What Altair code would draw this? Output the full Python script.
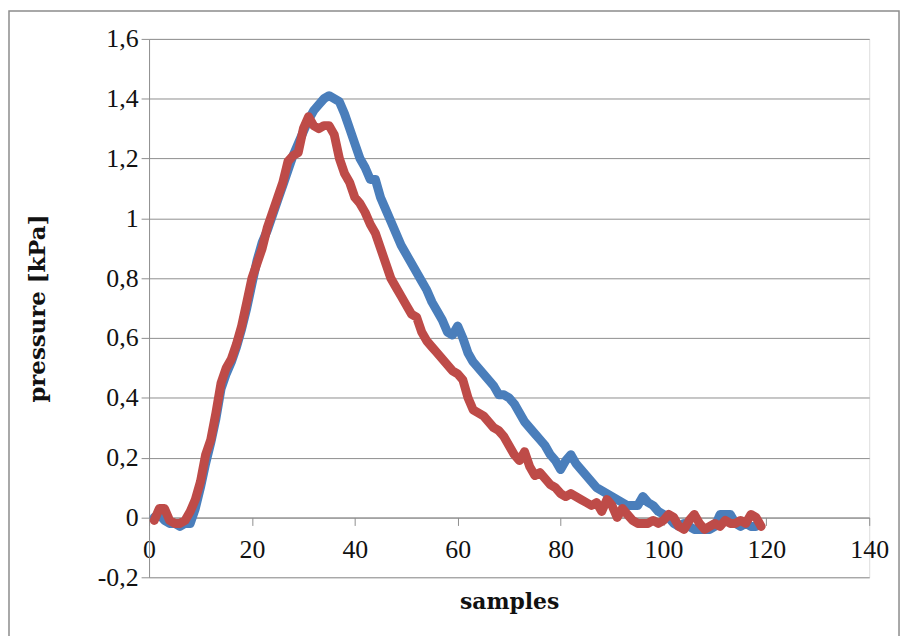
import altair as alt
import pandas as pd

# --- data ---
samples_red = list(range(1, 120))
pressure_red = [
    -0.01, 0.03, 0.03, -0.01, -0.02, -0.02, -0.01, 0.02, 0.06, 0.12,
    0.21, 0.26, 0.35, 0.45, 0.50, 0.53, 0.58, 0.64, 0.72, 0.80,
    0.85, 0.90, 0.97, 1.02, 1.07, 1.12, 1.19, 1.21, 1.22, 1.30,
    1.34, 1.31, 1.30, 1.31, 1.31, 1.28, 1.20, 1.15, 1.12, 1.07,
    1.05, 1.02, 0.98, 0.95, 0.90, 0.85, 0.80, 0.77, 0.74, 0.71,
    0.68, 0.67, 0.62, 0.59, 0.57, 0.55, 0.53, 0.51, 0.49, 0.48,
    0.46, 0.40, 0.36, 0.35, 0.34, 0.32, 0.30, 0.29, 0.27, 0.24,
    0.21, 0.19, 0.22, 0.17, 0.14, 0.15, 0.13, 0.11, 0.10, 0.08,
    0.07, 0.08, 0.07, 0.06, 0.05, 0.04, 0.05, 0.02, 0.06, 0.04,
    0.00, 0.03, 0.01, -0.01, -0.02, -0.02, -0.02, -0.01, -0.02, -0.01,
    0.01, 0.00, -0.03, -0.04, -0.01, 0.01, -0.02, -0.04, -0.03, -0.02,
    -0.03, -0.01, -0.02, -0.02, -0.01, -0.02, 0.01, 0.00, -0.03,
]

samples_blue = list(range(1, 119))
pressure_blue = [
    0.00, 0.01, -0.01, -0.02, -0.02, -0.03, -0.02, -0.02, 0.03, 0.10,
    0.18, 0.25, 0.33, 0.43, 0.48, 0.52, 0.57, 0.63, 0.70, 0.78,
    0.86, 0.92, 0.96, 1.01, 1.06, 1.11, 1.16, 1.21, 1.25, 1.29,
    1.33, 1.36, 1.38, 1.40, 1.41, 1.40, 1.39, 1.35, 1.30, 1.25,
    1.20, 1.17, 1.13, 1.13, 1.07, 1.03, 0.99, 0.95, 0.91, 0.88,
    0.85, 0.82, 0.79, 0.76, 0.72, 0.69, 0.66, 0.62, 0.61, 0.64,
    0.60, 0.55, 0.52, 0.50, 0.48, 0.46, 0.44, 0.41, 0.41, 0.40,
    0.38, 0.35, 0.32, 0.30, 0.28, 0.26, 0.24, 0.21, 0.19, 0.16,
    0.19, 0.21, 0.18, 0.16, 0.14, 0.12, 0.10, 0.09, 0.08, 0.07,
    0.06, 0.05, 0.04, 0.04, 0.04, 0.07, 0.05, 0.04, 0.02, 0.01,
    0.00, -0.02, -0.03, -0.02, -0.03, -0.04, -0.04, -0.04, -0.04, -0.03,
    0.01, 0.01, 0.01, -0.02, -0.03, -0.02, -0.03, -0.03,
]

x_ticks = [0, 20, 40, 60, 80, 100, 120, 140]
y_ticks = [-0.2, 0.0, 0.2, 0.4, 0.6, 0.8, 1.0, 1.2, 1.4, 1.6]

series_names = ["blue", "red"]
series_colors = ["#4a7ebb", "#be4b48"]

df = pd.concat([
    pd.DataFrame({"samples": samples_blue, "pressure": pressure_blue, "series": "blue", "order": 0}),
    pd.DataFrame({"samples": samples_red, "pressure": pressure_red, "series": "red", "order": 1}),
])

W, H = 725, 542
LFONT = "Liberation Serif"
TFONT = "DejaVu Serif"
GRID = "#8e8e8e"

label_expr = "replace(replace(format(datum.value, '~g'), '.', ','), '\u2212', '-')"

x_enc = alt.X(
    "samples:Q",
    scale=alt.Scale(domain=[0, 140], nice=False, zero=False),
    axis=alt.Axis(
        values=x_ticks, title="samples", grid=False,
        offset=-H / 9, domain=True, domainColor=GRID, tickColor=GRID,
        tickSize=8, labelPadding=11, labelFont=LFONT, labelFontSize=26,
        labelColor="#111111", titleFont=TFONT, titleFontSize=22,
        titleFontWeight="bold", titleColor="#111111", titlePadding=30,
        labelFlush=False,
    ),
)
y_enc = alt.Y(
    "pressure:Q",
    scale=alt.Scale(domain=[-0.2, 1.6], nice=False, zero=False),
    axis=alt.Axis(
        values=y_ticks, title="pressure [kPa]", grid=True, gridColor=GRID,
        gridOpacity=1, domainColor=GRID, tickColor=GRID, tickSize=8,
        labelPadding=3, labelExpr=label_expr, labelFont=LFONT, labelFontSize=26,
        labelColor="#111111", titleFont=TFONT, titleFontSize=23,
        titleFontWeight="bold", titleColor="#111111", titlePadding=48,
    ),
)

lines = alt.Chart(df).mark_line(strokeWidth=9, strokeCap="round", strokeJoin="round").encode(
    x=x_enc,
    y=y_enc,
    color=alt.Color("series:N", scale=alt.Scale(domain=series_names, range=series_colors), legend=None),
    detail="series:N",
    order="order:Q",
)

border = alt.Chart(alt.Data(values=[{}])).mark_rect(
    filled=False, stroke="#8c8c8c", strokeWidth=1.5
).encode(
    x=alt.value(-141), x2=alt.value(755), y=alt.value(-28), y2=alt.value(700)
)

chart = alt.layer(border, lines).properties(
    width=W, height=H,
    padding={"left": 142, "top": 29, "right": 32, "bottom": 57},
    autosize=alt.AutoSizeParams(type="none"),
).configure_view(stroke=None).configure(background="white")

chart.save("out.html", embed_options={"renderer": "svg", "actions": False})
